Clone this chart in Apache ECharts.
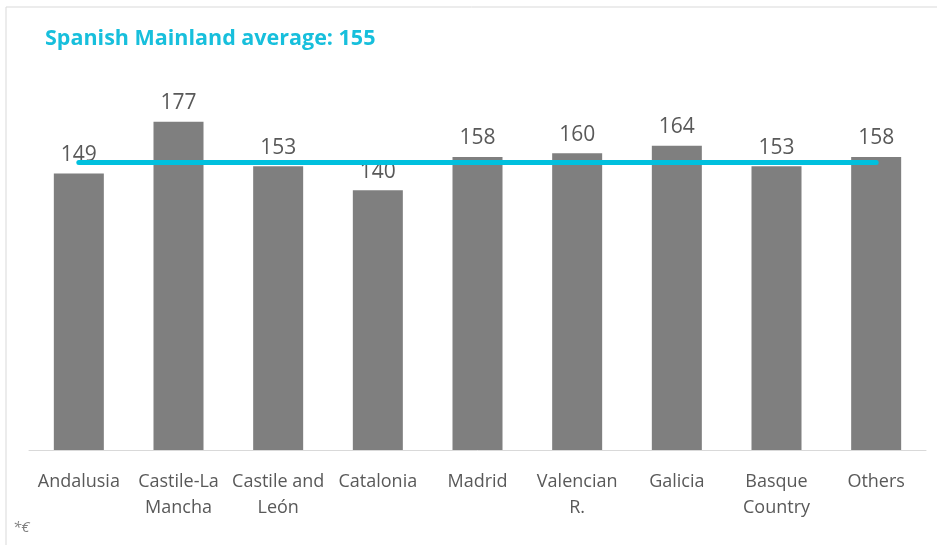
<!DOCTYPE html>
<html><head><meta charset="utf-8">
<script src="https://cdn.jsdelivr.net/npm/echarts@6/dist/echarts.min.js"></script>
<style>html,body{margin:0;padding:0;background:#fff}#c{width:937px;height:545px}</style>
</head><body><div id="c"></div>
<script>
const categories = ["Andalusia", "Castile-La\nMancha", "Castile and\nLeón", "Catalonia", "Madrid", "Valencian\nR.", "Galicia", "Basque\nCountry", "Others"];
const values = [149, 177, 153, 140, 158, 160, 164, 153, 158];
const average = 155;
const titleText = "Spanish Mainland average: " + average;
const footnote = "*€";

const FONT = "'Open Sans', sans-serif";
const chart = echarts.init(document.getElementById('c'));
chart.setOption({
  animation: false,
  backgroundColor: '#fff',
  title: {
    text: titleText, left: 40, top: 23,
    textStyle: { color: '#17BFDC', fontSize: 21.5, fontWeight: 'bold', fontFamily: FONT }
  },
  graphic: [
    { type: 'line', shape: { x1: 6, y1: 7, x2: 937, y2: 7 }, style: { stroke: '#d9d9d9', lineWidth: 1 } },
    { type: 'line', shape: { x1: 6, y1: 7, x2: 6, y2: 545 }, style: { stroke: '#d9d9d9', lineWidth: 1 } },
    { type: 'text', left: 13, top: 520, style: { text: footnote, fill: '#7f7f7f', font: "italic 15px " + FONT } }
  ],
  grid: { left: 29, right: 11, top: 79, bottom: 95 },
  xAxis: {
    type: 'category', data: categories,
    axisLine: { lineStyle: { color: '#d9d9d9', width: 1 } },
    axisTick: { show: false },
    axisLabel: { interval: 0, color: '#595959', fontSize: 18, fontFamily: FONT, lineHeight: 26, margin: 19 }
  },
  yAxis: { type: 'value', min: 0, max: 200, show: false, splitLine: { show: false } },
  series: [{
    type: 'bar', data: values, barWidth: 50,
    itemStyle: { color: '#7f7f7f' },
    label: { show: true, position: 'top', distance: 8, color: '#595959', fontSize: 21, fontFamily: FONT },
    markLine: {
      silent: true, symbol: ['none', 'none'], label: { show: false },
      lineStyle: { color: '#00C0DE', width: 5, type: 'solid', cap: 'round' },
      data: [[{ coord: [categories[0], average] }, { coord: [categories[categories.length - 1], average] }]]
    }
  }]
});
</script></body></html>
